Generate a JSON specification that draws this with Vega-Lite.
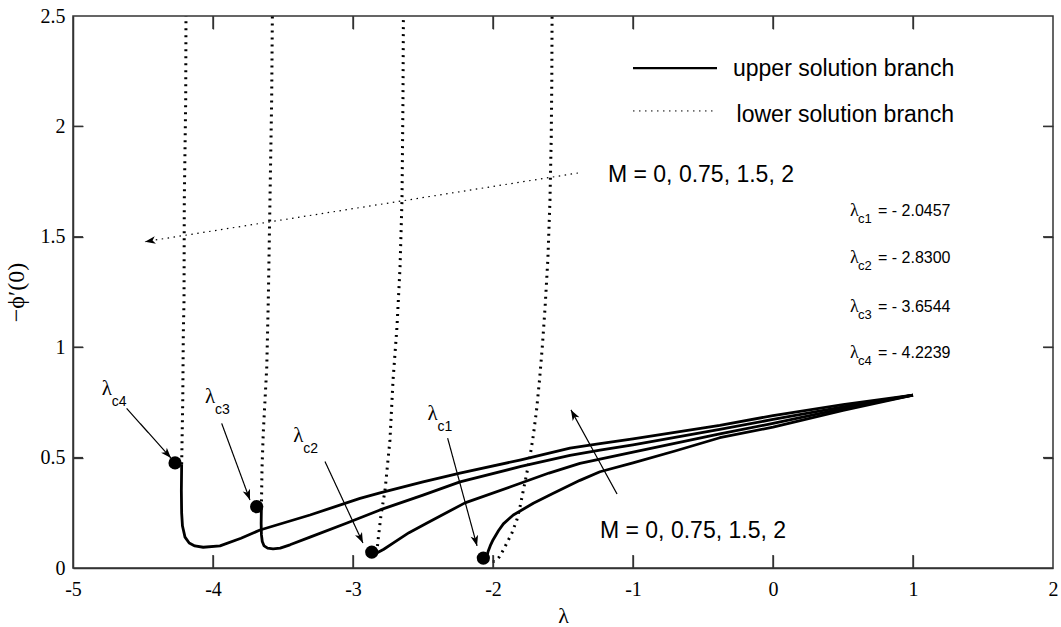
{
  "$schema": "https://vega.github.io/schema/vega-lite/v6.json",
  "width": 980,
  "height": 552,
  "autosize": {"type": "none"},
  "padding": {"left": 73, "top": 16, "right": 8, "bottom": 59},
  "background": "white",
  "config": {
    "view": {"stroke": "#333333", "strokeWidth": 1.5},
    "axis": {"grid": false, "domainColor": "#333333", "domainWidth": 1.5, "tickColor": "#333333", "tickWidth": 1.3, "tickOpacity": 1, "labelColor": "black", "titleColor": "black", "labelFlush": false, "labelBound": false, "labelOverlap": false}
  },
  "datasets": {
    "curves": [
      {"M": 0, "branch": "upper", "i": 1, "lam": -2.0457, "phi": 0.045},
      {"M": 0, "branch": "upper", "i": 2, "lam": -2.035, "phi": 0.075},
      {"M": 0, "branch": "upper", "i": 3, "lam": -2.02, "phi": 0.1},
      {"M": 0, "branch": "upper", "i": 4, "lam": -2.0, "phi": 0.127},
      {"M": 0, "branch": "upper", "i": 5, "lam": -1.96, "phi": 0.17},
      {"M": 0, "branch": "upper", "i": 6, "lam": -1.926, "phi": 0.2},
      {"M": 0, "branch": "upper", "i": 7, "lam": -1.855, "phi": 0.24},
      {"M": 0, "branch": "upper", "i": 8, "lam": -1.712, "phi": 0.293},
      {"M": 0, "branch": "upper", "i": 9, "lam": -1.569, "phi": 0.338},
      {"M": 0, "branch": "upper", "i": 10, "lam": -1.379, "phi": 0.397},
      {"M": 0, "branch": "upper", "i": 11, "lam": -1.236, "phi": 0.436},
      {"M": 0, "branch": "upper", "i": 12, "lam": -1.0, "phi": 0.476},
      {"M": 0, "branch": "upper", "i": 13, "lam": -0.7, "phi": 0.53},
      {"M": 0, "branch": "upper", "i": 14, "lam": -0.38, "phi": 0.59},
      {"M": 0, "branch": "upper", "i": 15, "lam": 0, "phi": 0.638},
      {"M": 0, "branch": "upper", "i": 16, "lam": 0.5, "phi": 0.714},
      {"M": 0, "branch": "upper", "i": 17, "lam": 1, "phi": 0.783},

      {"M": 0.75, "branch": "upper", "i": 1, "lam": -2.83, "phi": 0.068},
      {"M": 0.75, "branch": "upper", "i": 2, "lam": -2.78, "phi": 0.085},
      {"M": 0.75, "branch": "upper", "i": 3, "lam": -2.714, "phi": 0.113},
      {"M": 0.75, "branch": "upper", "i": 4, "lam": -2.6, "phi": 0.16},
      {"M": 0.75, "branch": "upper", "i": 5, "lam": -2.471, "phi": 0.204},
      {"M": 0.75, "branch": "upper", "i": 6, "lam": -2.2, "phi": 0.295},
      {"M": 0.75, "branch": "upper", "i": 7, "lam": -1.879, "phi": 0.367},
      {"M": 0.75, "branch": "upper", "i": 8, "lam": -1.6, "phi": 0.43},
      {"M": 0.75, "branch": "upper", "i": 9, "lam": -1.379, "phi": 0.474},
      {"M": 0.75, "branch": "upper", "i": 10, "lam": -1.0, "phi": 0.525},
      {"M": 0.75, "branch": "upper", "i": 11, "lam": -0.38, "phi": 0.607},
      {"M": 0.75, "branch": "upper", "i": 12, "lam": 0, "phi": 0.655},
      {"M": 0.75, "branch": "upper", "i": 13, "lam": 0.5, "phi": 0.722},
      {"M": 0.75, "branch": "upper", "i": 14, "lam": 1, "phi": 0.783},

      {"M": 1.5, "branch": "upper", "i": 1, "lam": -3.6544, "phi": 0.27},
      {"M": 1.5, "branch": "upper", "i": 2, "lam": -3.656, "phi": 0.2},
      {"M": 1.5, "branch": "upper", "i": 3, "lam": -3.654, "phi": 0.15},
      {"M": 1.5, "branch": "upper", "i": 4, "lam": -3.648, "phi": 0.12},
      {"M": 1.5, "branch": "upper", "i": 5, "lam": -3.635, "phi": 0.1},
      {"M": 1.5, "branch": "upper", "i": 6, "lam": -3.61, "phi": 0.09},
      {"M": 1.5, "branch": "upper", "i": 7, "lam": -3.571, "phi": 0.087},
      {"M": 1.5, "branch": "upper", "i": 8, "lam": -3.52, "phi": 0.09},
      {"M": 1.5, "branch": "upper", "i": 9, "lam": -3.45, "phi": 0.105},
      {"M": 1.5, "branch": "upper", "i": 10, "lam": -3.307, "phi": 0.14},
      {"M": 1.5, "branch": "upper", "i": 11, "lam": -3.043, "phi": 0.204},
      {"M": 1.5, "branch": "upper", "i": 12, "lam": -2.807, "phi": 0.263},
      {"M": 1.5, "branch": "upper", "i": 13, "lam": -2.5, "phi": 0.33},
      {"M": 1.5, "branch": "upper", "i": 14, "lam": -2.236, "phi": 0.39},
      {"M": 1.5, "branch": "upper", "i": 15, "lam": -1.8, "phi": 0.46},
      {"M": 1.5, "branch": "upper", "i": 16, "lam": -1.45, "phi": 0.51},
      {"M": 1.5, "branch": "upper", "i": 17, "lam": -1.236, "phi": 0.534},
      {"M": 1.5, "branch": "upper", "i": 18, "lam": -1.0, "phi": 0.558},
      {"M": 1.5, "branch": "upper", "i": 19, "lam": -0.38, "phi": 0.628},
      {"M": 1.5, "branch": "upper", "i": 20, "lam": 0, "phi": 0.673},
      {"M": 1.5, "branch": "upper", "i": 21, "lam": 0.5, "phi": 0.73},
      {"M": 1.5, "branch": "upper", "i": 22, "lam": 1, "phi": 0.783},

      {"M": 2, "branch": "upper", "i": 1, "lam": -4.2239, "phi": 0.47},
      {"M": 2, "branch": "upper", "i": 2, "lam": -4.226, "phi": 0.35},
      {"M": 2, "branch": "upper", "i": 3, "lam": -4.224, "phi": 0.25},
      {"M": 2, "branch": "upper", "i": 4, "lam": -4.218, "phi": 0.19},
      {"M": 2, "branch": "upper", "i": 5, "lam": -4.2, "phi": 0.14},
      {"M": 2, "branch": "upper", "i": 6, "lam": -4.17, "phi": 0.113},
      {"M": 2, "branch": "upper", "i": 7, "lam": -4.13, "phi": 0.1},
      {"M": 2, "branch": "upper", "i": 8, "lam": -4.07, "phi": 0.094},
      {"M": 2, "branch": "upper", "i": 9, "lam": -3.95, "phi": 0.1},
      {"M": 2, "branch": "upper", "i": 10, "lam": -3.8, "phi": 0.135},
      {"M": 2, "branch": "upper", "i": 11, "lam": -3.664, "phi": 0.172},
      {"M": 2, "branch": "upper", "i": 12, "lam": -3.307, "phi": 0.24},
      {"M": 2, "branch": "upper", "i": 13, "lam": -2.95, "phi": 0.315},
      {"M": 2, "branch": "upper", "i": 14, "lam": -2.807, "phi": 0.34},
      {"M": 2, "branch": "upper", "i": 15, "lam": -2.5, "phi": 0.39},
      {"M": 2, "branch": "upper", "i": 16, "lam": -2.236, "phi": 0.43},
      {"M": 2, "branch": "upper", "i": 17, "lam": -1.8, "phi": 0.49},
      {"M": 2, "branch": "upper", "i": 18, "lam": -1.45, "phi": 0.543},
      {"M": 2, "branch": "upper", "i": 19, "lam": -1.236, "phi": 0.563},
      {"M": 2, "branch": "upper", "i": 20, "lam": -1.0, "phi": 0.585},
      {"M": 2, "branch": "upper", "i": 21, "lam": -0.38, "phi": 0.646},
      {"M": 2, "branch": "upper", "i": 22, "lam": 0, "phi": 0.69},
      {"M": 2, "branch": "upper", "i": 23, "lam": 0.5, "phi": 0.74},
      {"M": 2, "branch": "upper", "i": 24, "lam": 1, "phi": 0.783},

      {"M": 0, "branch": "lower", "i": 1, "lam": -2.0457, "phi": 0.045},
      {"M": 0, "branch": "lower", "i": 2, "lam": -2.01, "phi": 0.03},
      {"M": 0, "branch": "lower", "i": 3, "lam": -1.986, "phi": 0.03},
      {"M": 0, "branch": "lower", "i": 4, "lam": -1.955, "phi": 0.05},
      {"M": 0, "branch": "lower", "i": 5, "lam": -1.926, "phi": 0.082},
      {"M": 0, "branch": "lower", "i": 6, "lam": -1.866, "phi": 0.157},
      {"M": 0, "branch": "lower", "i": 7, "lam": -1.83, "phi": 0.217},
      {"M": 0, "branch": "lower", "i": 8, "lam": -1.807, "phi": 0.277},
      {"M": 0, "branch": "lower", "i": 9, "lam": -1.783, "phi": 0.353},
      {"M": 0, "branch": "lower", "i": 10, "lam": -1.759, "phi": 0.428},
      {"M": 0, "branch": "lower", "i": 11, "lam": -1.736, "phi": 0.504},
      {"M": 0, "branch": "lower", "i": 12, "lam": -1.712, "phi": 0.6},
      {"M": 0, "branch": "lower", "i": 13, "lam": -1.688, "phi": 0.72},
      {"M": 0, "branch": "lower", "i": 14, "lam": -1.668, "phi": 0.85},
      {"M": 0, "branch": "lower", "i": 15, "lam": -1.648, "phi": 1.0},
      {"M": 0, "branch": "lower", "i": 16, "lam": -1.628, "phi": 1.18},
      {"M": 0, "branch": "lower", "i": 17, "lam": -1.608, "phi": 1.4},
      {"M": 0, "branch": "lower", "i": 18, "lam": -1.593, "phi": 1.667},
      {"M": 0, "branch": "lower", "i": 19, "lam": -1.584, "phi": 1.95},
      {"M": 0, "branch": "lower", "i": 20, "lam": -1.58, "phi": 2.2},
      {"M": 0, "branch": "lower", "i": 21, "lam": -1.578, "phi": 2.5},

      {"M": 0.75, "branch": "lower", "i": 1, "lam": -2.83, "phi": 0.068},
      {"M": 0.75, "branch": "lower", "i": 2, "lam": -2.821, "phi": 0.127},
      {"M": 0.75, "branch": "lower", "i": 3, "lam": -2.8, "phi": 0.24},
      {"M": 0.75, "branch": "lower", "i": 4, "lam": -2.771, "phi": 0.353},
      {"M": 0.75, "branch": "lower", "i": 5, "lam": -2.736, "phi": 0.58},
      {"M": 0.75, "branch": "lower", "i": 6, "lam": -2.714, "phi": 0.851},
      {"M": 0.75, "branch": "lower", "i": 7, "lam": -2.686, "phi": 1.091},
      {"M": 0.75, "branch": "lower", "i": 8, "lam": -2.664, "phi": 1.363},
      {"M": 0.75, "branch": "lower", "i": 9, "lam": -2.65, "phi": 1.667},
      {"M": 0.75, "branch": "lower", "i": 10, "lam": -2.643, "phi": 2.12},
      {"M": 0.75, "branch": "lower", "i": 11, "lam": -2.64, "phi": 2.5},

      {"M": 1.5, "branch": "lower", "i": 1, "lam": -3.6544, "phi": 0.27},
      {"M": 1.5, "branch": "lower", "i": 2, "lam": -3.65, "phi": 0.45},
      {"M": 1.5, "branch": "lower", "i": 3, "lam": -3.641, "phi": 0.611},
      {"M": 1.5, "branch": "lower", "i": 4, "lam": -3.616, "phi": 0.91},
      {"M": 1.5, "branch": "lower", "i": 5, "lam": -3.605, "phi": 1.214},
      {"M": 1.5, "branch": "lower", "i": 6, "lam": -3.593, "phi": 1.667},
      {"M": 1.5, "branch": "lower", "i": 7, "lam": -3.581, "phi": 2.12},
      {"M": 1.5, "branch": "lower", "i": 8, "lam": -3.576, "phi": 2.5},

      {"M": 2, "branch": "lower", "i": 1, "lam": -4.2239, "phi": 0.47},
      {"M": 2, "branch": "lower", "i": 2, "lam": -4.216, "phi": 0.761},
      {"M": 2, "branch": "lower", "i": 3, "lam": -4.212, "phi": 1.064},
      {"M": 2, "branch": "lower", "i": 4, "lam": -4.207, "phi": 1.214},
      {"M": 2, "branch": "lower", "i": 5, "lam": -4.205, "phi": 1.667},
      {"M": 2, "branch": "lower", "i": 6, "lam": -4.195, "phi": 2.12},
      {"M": 2, "branch": "lower", "i": 7, "lam": -4.193, "phi": 2.5}
    ],
    "dots": [
      {"M": 0, "lam": -2.069, "phi": 0.045},
      {"M": 0.75, "lam": -2.866, "phi": 0.072},
      {"M": 1.5, "lam": -3.688, "phi": 0.278},
      {"M": 2, "lam": -4.271, "phi": 0.476}
    ],
    "arrows": [
      {"x1": -1.393, "y1": 1.789, "x2": -4.486, "y2": 1.478, "style": "dotted", "angle": 261},
      {"x1": -4.617, "y1": 0.723, "x2": -4.3, "y2": 0.498, "style": "solid", "angle": 138},
      {"x1": -3.938, "y1": 0.655, "x2": -3.736, "y2": 0.308, "style": "solid", "angle": 160},
      {"x1": -3.2, "y1": 0.482, "x2": -2.929, "y2": 0.113, "style": "solid", "angle": 155},
      {"x1": -2.324, "y1": 0.588, "x2": -2.114, "y2": 0.1, "style": "solid", "angle": 165},
      {"x1": -1.114, "y1": 0.335, "x2": -1.443, "y2": 0.716, "style": "solid", "angle": 331}
    ],
    "keys": [
      {"x1": -1.0, "x2": -0.4, "y": 2.264, "style": "solid"},
      {"x1": -1.0, "x2": -0.4, "y": 2.07, "style": "dotted"}
    ],
    "notes": [
      {"lam": -1.179, "phi": 1.748, "text": "M = 0, 0.75, 1.5, 2"},
      {"lam": -1.236, "phi": 0.134, "text": "M = 0, 0.75, 1.5, 2"},
      {"lam": -0.286, "phi": 2.228, "text": "upper solution branch"},
      {"lam": -0.26, "phi": 2.021, "text": "lower solution branch"}
    ],
    "crit": [
      {"lam": 0.55, "phi": 1.594, "sub": "c1", "val": "= - 2.0457"},
      {"lam": 0.55, "phi": 1.38, "sub": "c2", "val": "= - 2.8300"},
      {"lam": 0.55, "phi": 1.161, "sub": "c3", "val": "= - 3.6544"},
      {"lam": 0.55, "phi": 0.95, "sub": "c4", "val": "= - 4.2239"}
    ],
    "tags": [
      {"lam": -4.795, "phi": 0.784, "sub": "c4"},
      {"lam": -4.057, "phi": 0.746, "sub": "c3"},
      {"lam": -3.426, "phi": 0.572, "sub": "c2"},
      {"lam": -2.467, "phi": 0.67, "sub": "c1"}
    ],
    "frame": [
      {"side": "bottom", "lam": -4, "phi": 0}, {"side": "bottom", "lam": -3, "phi": 0}, {"side": "bottom", "lam": -2, "phi": 0},
      {"side": "bottom", "lam": -1, "phi": 0}, {"side": "bottom", "lam": 0, "phi": 0}, {"side": "bottom", "lam": 1, "phi": 0},
      {"side": "top", "lam": -4, "phi": 2.5}, {"side": "top", "lam": -3, "phi": 2.5}, {"side": "top", "lam": -2, "phi": 2.5},
      {"side": "top", "lam": -1, "phi": 2.5}, {"side": "top", "lam": 0, "phi": 2.5}, {"side": "top", "lam": 1, "phi": 2.5},
      {"side": "left", "lam": -5, "phi": 0.5}, {"side": "left", "lam": -5, "phi": 1}, {"side": "left", "lam": -5, "phi": 1.5}, {"side": "left", "lam": -5, "phi": 2},
      {"side": "right", "lam": 2, "phi": 0.5}, {"side": "right", "lam": 2, "phi": 1}, {"side": "right", "lam": 2, "phi": 1.5}, {"side": "right", "lam": 2, "phi": 2}
    ]
  },
  "resolve": {"axis": {"x": "independent", "y": "independent"}},
  "layer": [
    {
      "data": {"name": "curves"},
      "transform": [{"filter": "datum.branch === 'upper'"}],
      "mark": {"type": "line", "color": "black", "strokeWidth": 2.8, "strokeJoin": "round"},
      "encoding": {
        "x": {"field": "lam", "type": "quantitative", "scale": {"domain": [-5, 2], "nice": false, "zero": false},
          "axis": {"orient": "bottom", "values": [-5, -4, -3, -2, -1, 0, 1, 2], "labelExpr": "'' + datum.value", "ticks": false, "labelPadding": 11, "labelFont": "Liberation Serif", "labelFontSize": 20, "title": "λ", "titleFont": "Liberation Serif", "titleFontSize": 22, "titleFontWeight": "normal", "titlePadding": 6}},
        "y": {"field": "phi", "type": "quantitative", "scale": {"domain": [0, 2.5], "nice": false, "zero": false},
          "axis": {"orient": "left", "values": [0, 0.5, 1, 1.5, 2, 2.5], "labelExpr": "'' + datum.value", "ticks": false, "labelPadding": 8, "labelFont": "Liberation Serif", "labelFontSize": 20, "title": "−ϕ′(0)", "titleFont": "Liberation Serif", "titleFontSize": 24, "titleFontWeight": "normal", "titlePadding": 12}},
        "detail": {"field": "M", "type": "nominal"},
        "order": {"field": "i", "type": "quantitative"}
      }
    },
    {
      "data": {"name": "curves"},
      "transform": [{"filter": "datum.branch === 'lower'"}],
      "mark": {"type": "line", "color": "black", "strokeWidth": 3, "strokeDash": [2, 5]},
      "encoding": {
        "x": {"field": "lam", "type": "quantitative",
          "axis": {"orient": "top", "offset": -552, "values": [-4, -3, -2, -1, 0, 1], "ticks": true, "tickSize": 13, "domain": false, "labels": false, "title": null}},
        "y": {"field": "phi", "type": "quantitative",
          "axis": {"orient": "right", "offset": -980, "values": [0.5, 1, 1.5, 2], "ticks": true, "tickSize": 10, "domain": false, "labels": false, "title": null}},
        "detail": {"field": "M", "type": "nominal"},
        "order": {"field": "i", "type": "quantitative"}
      }
    },
    {
      "data": {"name": "frame"},
      "transform": [{"filter": "datum.side === 'bottom'"}],
      "mark": {"type": "tick", "orient": "vertical", "color": "#333333", "size": 13, "thickness": 1.4, "yOffset": -6.5, "opacity": 1},
      "encoding": {
        "x": {"field": "lam", "type": "quantitative",
          "axis": {"orient": "bottom", "offset": -552, "values": [-4, -3, -2, -1, 0, 1], "ticks": true, "tickSize": 13, "domain": false, "labels": false, "title": null}},
        "y": {"field": "phi", "type": "quantitative",
          "axis": {"orient": "left", "offset": -980, "values": [0.5, 1, 1.5, 2], "ticks": true, "tickSize": 10, "domain": false, "labels": false, "title": null}}
      }
    },
    {
      "data": {"name": "frame"},
      "transform": [{"filter": "datum.side === 'top'"}],
      "mark": {"type": "tick", "orient": "vertical", "color": "#333333", "size": 13, "thickness": 1.4, "yOffset": 6.5, "opacity": 1},
      "encoding": {
        "x": {"field": "lam", "type": "quantitative", "axis": null},
        "y": {"field": "phi", "type": "quantitative", "axis": null}
      }
    },
    {
      "data": {"name": "frame"},
      "transform": [{"filter": "datum.side === 'left'"}],
      "mark": {"type": "tick", "orient": "horizontal", "color": "#333333", "size": 10, "thickness": 1.4, "xOffset": 5, "opacity": 1},
      "encoding": {
        "x": {"field": "lam", "type": "quantitative", "axis": null},
        "y": {"field": "phi", "type": "quantitative", "axis": null}
      }
    },
    {
      "data": {"name": "frame"},
      "transform": [{"filter": "datum.side === 'right'"}],
      "mark": {"type": "tick", "orient": "horizontal", "color": "#333333", "size": 10, "thickness": 1.4, "xOffset": -5, "opacity": 1},
      "encoding": {
        "x": {"field": "lam", "type": "quantitative", "axis": null},
        "y": {"field": "phi", "type": "quantitative", "axis": null}
      }
    },
    {
      "data": {"name": "arrows"},
      "mark": {"type": "rule", "color": "black", "strokeWidth": 1.2},
      "encoding": {
        "x": {"field": "x1", "type": "quantitative", "axis": null},
        "y": {"field": "y1", "type": "quantitative", "axis": null},
        "x2": {"field": "x2"},
        "y2": {"field": "y2"},
        "strokeDash": {"field": "style", "type": "nominal", "scale": {"domain": ["dotted", "solid"], "range": [[1.5, 4.5], [1, 0]]}, "legend": null}
      }
    },
    {
      "data": {"name": "arrows"},
      "mark": {"type": "point", "shape": "M0,0L0.55,1.5L0,1.1L-0.55,1.5Z", "filled": true, "color": "black", "opacity": 1, "size": 196},
      "encoding": {
        "x": {"field": "x2", "type": "quantitative", "axis": null},
        "y": {"field": "y2", "type": "quantitative", "axis": null},
        "angle": {"field": "angle", "type": "quantitative", "scale": null}
      }
    },
    {
      "data": {"name": "dots"},
      "mark": {"type": "point", "shape": "circle", "filled": true, "color": "black", "opacity": 1, "size": 175},
      "encoding": {
        "x": {"field": "lam", "type": "quantitative", "axis": null},
        "y": {"field": "phi", "type": "quantitative", "axis": null}
      }
    },
    {
      "data": {"name": "keys"},
      "mark": {"type": "rule", "color": "black"},
      "encoding": {
        "x": {"field": "x1", "type": "quantitative", "axis": null},
        "x2": {"field": "x2"},
        "y": {"field": "y", "type": "quantitative", "axis": null},
        "strokeDash": {"field": "style", "type": "nominal", "scale": {"domain": ["dotted", "solid"], "range": [[1, 5], [1, 0]]}, "legend": null},
        "strokeWidth": {"field": "style", "type": "nominal", "scale": {"domain": ["dotted", "solid"], "range": [1, 2.2]}, "legend": null}
      }
    },
    {
      "data": {"name": "notes"},
      "mark": {"type": "text", "font": "Liberation Sans", "fontSize": 23, "align": "left", "baseline": "alphabetic", "color": "black"},
      "encoding": {
        "x": {"field": "lam", "type": "quantitative", "axis": null},
        "y": {"field": "phi", "type": "quantitative", "axis": null},
        "text": {"field": "text"}
      }
    },
    {
      "data": {"name": "crit"},
      "mark": {"type": "text", "font": "Liberation Serif", "fontSize": 18, "align": "left", "baseline": "alphabetic", "color": "black"},
      "encoding": {
        "x": {"field": "lam", "type": "quantitative", "axis": null},
        "y": {"field": "phi", "type": "quantitative", "axis": null},
        "text": {"value": "λ"}
      }
    },
    {
      "data": {"name": "crit"},
      "mark": {"type": "text", "font": "Liberation Sans", "fontSize": 13, "align": "left", "baseline": "alphabetic", "color": "black", "dx": 8, "dy": 7},
      "encoding": {
        "x": {"field": "lam", "type": "quantitative", "axis": null},
        "y": {"field": "phi", "type": "quantitative", "axis": null},
        "text": {"field": "sub"}
      }
    },
    {
      "data": {"name": "crit"},
      "mark": {"type": "text", "font": "Liberation Sans", "fontSize": 16, "align": "left", "baseline": "alphabetic", "color": "black", "dx": 28},
      "encoding": {
        "x": {"field": "lam", "type": "quantitative", "axis": null},
        "y": {"field": "phi", "type": "quantitative", "axis": null},
        "text": {"field": "val"}
      }
    },
    {
      "data": {"name": "tags"},
      "mark": {"type": "text", "font": "Liberation Serif", "fontSize": 21, "align": "left", "baseline": "alphabetic", "color": "black"},
      "encoding": {
        "x": {"field": "lam", "type": "quantitative", "axis": null},
        "y": {"field": "phi", "type": "quantitative", "axis": null},
        "text": {"value": "λ"}
      }
    },
    {
      "data": {"name": "tags"},
      "mark": {"type": "text", "font": "Liberation Sans", "fontSize": 14, "align": "left", "baseline": "alphabetic", "color": "black", "dx": 10, "dy": 11},
      "encoding": {
        "x": {"field": "lam", "type": "quantitative", "axis": null},
        "y": {"field": "phi", "type": "quantitative", "axis": null},
        "text": {"field": "sub"}
      }
    }
  ]
}
